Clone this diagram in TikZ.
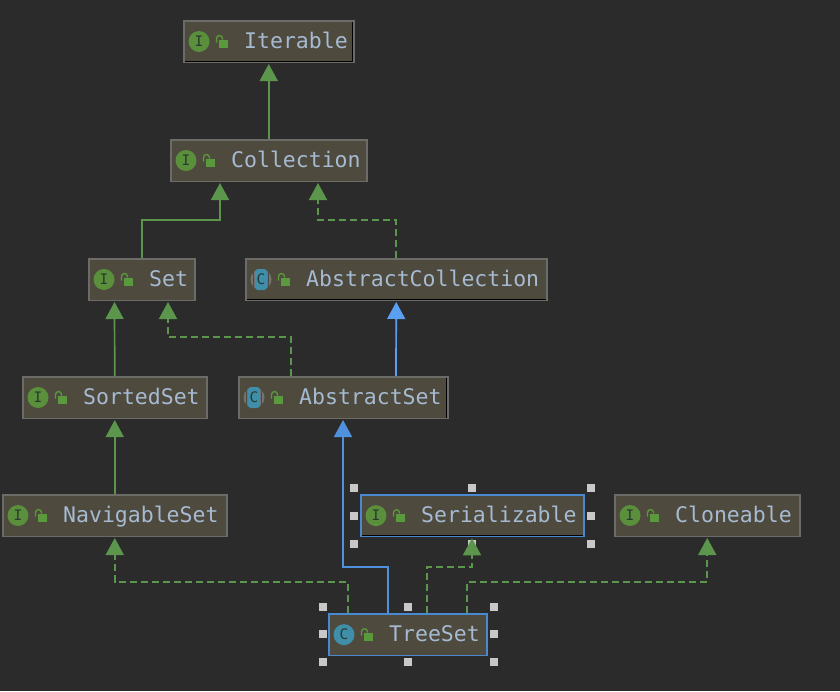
\documentclass[tikz,border=0pt]{standalone}
\usepackage{fontspec}
\setmonofont{DejaVu Sans Mono}
\usetikzlibrary{arrows.meta}
\definecolor{bgc}{HTML}{2B2B2B}
\definecolor{boxc}{HTML}{4E4A3E}
\definecolor{edgec}{HTML}{6B6B68}
\definecolor{greenc}{HTML}{5C964C}
\definecolor{bluec}{HTML}{5A9FF0}
\definecolor{selc}{HTML}{4A88D0}
\definecolor{textc}{HTML}{A6BAD2}
\definecolor{ifacec}{HTML}{5A8F3C}
\definecolor{classc}{HTML}{3F8FAB}
\definecolor{lockc}{HTML}{5A9A3C}
\definecolor{handlec}{HTML}{C8C8C8}
\definecolor{letterc}{HTML}{2A3A30}
\tikzset{
  boxnode/.style={draw=edgec,fill=boxc,line width=1.5pt,inner sep=0pt,minimum height=41.5pt},
  selnode/.style={boxnode,draw=selc,line width=1.8pt},
  lbl/.style={inner sep=0pt,anchor=base west,text=textc,font=\ttfamily\fontsize{21.5}{24}\selectfont},
  iconletter/.style={inner sep=0pt,text=letterc,font=\ttfamily\fontsize{14.5}{15}\selectfont},
  iconround/.style={circle,inner sep=0pt,minimum size=21pt},
  handle/.style={rectangle,fill=handlec,inner sep=0pt,minimum size=7.5pt},
  conn/.style={line width=1.7pt,shorten >=1pt,-{Triangle[length=17pt,width=18pt]}},
  ext/.style={conn,draw=greenc},
  impl/.style={conn,draw=greenc,dash pattern=on 7pt off 4pt},
  clsext/.style={conn,draw=bluec},
}
% name, box style, left, top, width, text
\newcommand{\umlbox}[6]{%
  \node[#2,minimum width=#5pt,anchor=north west] (#1) at (#3,#4) {};
  \node[lbl] (#1-t) at ([xshift=61pt,yshift=-28.5pt]#1.north west) {#6};
  \begin{scope}[shift={([xshift=16pt]#1.west)}]
    \fill[lockc] (20,-2) rectangle (29,6);
    \draw[lockc,line width=1.3pt] (17.5,1) -- (17.5,-3) arc[start angle=180,end angle=0,x radius=3,y radius=-3] -- (23.5,-2);
  \end{scope}
}
\newcommand{\ifaceicon}[1]{%
  \node[iconround,fill=ifacec] (#1-i) at ([xshift=16pt]#1.west) {};
  \node[iconletter] (#1-l) at (#1-i) {I};
}
\newcommand{\classicon}[1]{%
  \node[iconround,fill=classc] (#1-i) at ([xshift=16pt]#1.west) {};
  \node[iconletter] (#1-l) at (#1-i) {C};
}
\newcommand{\absicon}[1]{%
  \node[iconround,fill=gray!90!black] (#1-i) at ([xshift=16pt]#1.west) {};
  \fill[boxc] ([xshift=-8pt,yshift=-11pt]#1-i.center) rectangle ([xshift=-7pt,yshift=11pt]#1-i.center);
  \fill[boxc] ([xshift=7pt,yshift=-11pt]#1-i.center) rectangle ([xshift=8pt,yshift=11pt]#1-i.center);
  \fill[classc,rounded corners=3pt] ([xshift=-6pt,yshift=-10.5pt]#1-i.center) rectangle ([xshift=6pt,yshift=10.5pt]#1-i.center);
  \node[iconletter] (#1-l) at (#1-i) {C};
}
\begin{document}
\begin{tikzpicture}[x=1pt,y=-1pt]
\fill[bgc] (0,0) rectangle (840,691);
\useasboundingbox (0,0) rectangle (840,691);
% selection handles
\foreach \n/\x/\y in {a/354/488,b/472/488,c/591/488,d/354/516,e/591/516,f/354/544,g/472/544,h/591/544,
                      i/323/607,j/408/607,k/494/607,l/323/634,m/494/634,n/323/662,o/408/662,p/494/662}
  \node[handle] (h\n) at (\x,\y) {};
% boxes
\umlbox{iter}{boxnode}{183}{20}{170}{Iterable}
\umlbox{coll}{boxnode}{170}{139}{196}{Collection}
\umlbox{set}{boxnode}{88}{258}{106}{Set}
\umlbox{acoll}{boxnode}{245}{258}{301}{AbstractCollection}
\umlbox{sorted}{boxnode}{22}{376}{184}{SortedSet}
\umlbox{aset}{boxnode}{238}{376}{209}{AbstractSet}
\umlbox{nav}{boxnode}{2}{494}{224}{NavigableSet}
\umlbox{ser}{selnode}{360}{494}{223}{Serializable}
\umlbox{clo}{boxnode}{614}{494}{185}{Cloneable}
\umlbox{tree}{selnode}{328}{613}{158}{TreeSet}
% inner shadow lines
\draw[black,line width=1pt] ([xshift=1.5pt,yshift=2pt]iter.south west) -- ([xshift=-2pt,yshift=2pt]iter.south east) -- ([xshift=-2pt,yshift=-1.5pt]iter.north east);
\draw[black,line width=1pt] ([xshift=1.5pt,yshift=2pt]acoll.south west) -- ([xshift=-1.5pt,yshift=2pt]acoll.south east);
\draw[black,line width=1pt] ([xshift=-2pt,yshift=1.5pt]aset.south east) -- ([xshift=-2pt,yshift=-1.5pt]aset.north east);
\draw[black,line width=1pt] ([xshift=1.8pt,yshift=2.3pt]ser.south west) -- ([xshift=-1.8pt,yshift=2.3pt]ser.south east);
\foreach \b in {iter,coll,set,sorted,nav,ser,clo} {\ifaceicon{\b}}
\absicon{acoll}
\absicon{aset}
\classicon{tree}
% connectors
\draw[ext] (coll.north) -- (iter.south);
\draw[ext] (set.north) -- ++(0,-38) -| ([xshift=50pt]coll.south west);
\draw[impl] (acoll.north) -- ++(0,-38) -| ([xshift=148pt]coll.south west);
\draw[ext] (sorted.north) -- ([xshift=26.5pt]set.south west);
\draw[impl] ([xshift=53pt]aset.north west) -- ++(0,-39) -| ([xshift=80pt]set.south west);
\draw[clsext] ([xshift=158pt]aset.north west) -- (acoll.south);
\draw[ext] (nav.north) -- (sorted.south);
\draw[clsext,draw=selc!60!bluec] ([xshift=60pt]tree.north west) -- ++(0,-46) -| ([xshift=105pt]aset.south west);
\draw[impl] ([xshift=20pt]tree.north west) -- ++(0,-31) -| (nav.south);
\draw[impl] ([xshift=99pt]tree.north west) -- ++(0,-46) -| ([xshift=112pt]ser.south west);
\draw[impl] ([xshift=139pt]tree.north west) -- ++(0,-31) -| (clo.south);
\end{tikzpicture}
\end{document}
